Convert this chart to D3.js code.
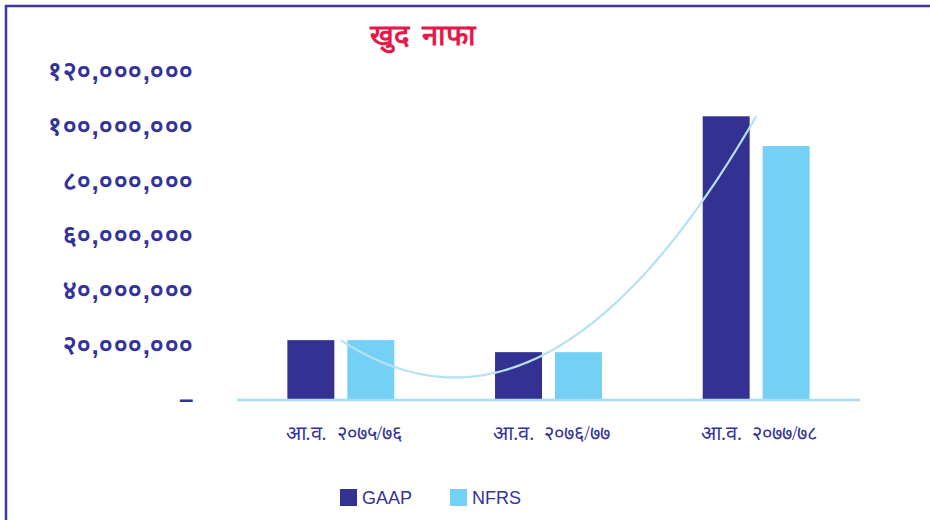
<!DOCTYPE html>
<html>
<head>
<meta charset="utf-8">
<script src="https://cdn.jsdelivr.net/npm/d3@7/dist/d3.min.js"></script>
<style>
  body { margin: 0; background: #fff; }
  svg { display: block; }
</style>
</head>
<body>
<svg width="930" height="520"></svg>
<script>
// data
const years = ['आ.व.  २०७५/७६', 'आ.व.  २०७६/७७', 'आ.व.  २०७७/७८'];
const gaap = [21900000, 17500000, 103800000];
const nfrs = [21900000, 17500000, 92900000];
const yTicks = [0, 20000000, 40000000, 60000000, 80000000, 100000000, 120000000];
const tickLabels = ['–', '२०,०००,०००', '४०,०००,०००', '६०,०००,०००', '८०,०००,०००', '१००,०००,०००', '१२०,०००,०००'];
const seriesNames = ['GAAP', 'NFRS'];
const colors = ['#333191', '#74d0f5'];

const ink = '#33339a';
const svg = d3.select('svg');

// frame
svg.append('path')
  .attr('d', 'M 6 520 L 6 6 L 930 6')
  .attr('fill', 'none')
  .attr('stroke', '#3a3a9c')
  .attr('stroke-width', 2.5);

const x = d3.scaleBand().domain(years).range([237, 860]);
const inner = d3.scaleBand().domain(seriesNames)
  .range([0, x.bandwidth()]).paddingInner(0.217).paddingOuter(0.84);
const y = d3.scaleLinear().domain([0, 120000000]).range([400, 72]);

// title
svg.append('text')
  .attr('x', 423).attr('y', 45)
  .attr('text-anchor', 'middle')
  .attr('fill', '#e8194a')
  .attr('font-size', 29).attr('font-weight', 'bold')
  .attr('word-spacing', 6)
  .text('खुद नाफा');

// y labels
const yAxis = d3.axisLeft(y).tickValues(yTicks)
  .tickFormat((d, i) => tickLabels[i]).tickSize(0).tickPadding(0);
const ga = svg.append('g').attr('transform', 'translate(194,0)').call(yAxis);
ga.select('.domain').remove();
ga.selectAll('text')
  .attr('fill', ink)
  .attr('font-size', 26)
  .attr('font-weight', 'bold')
  .attr('letter-spacing', 0.5)
  .attr('dy', '0.3em');

// bars
const groups = svg.append('g').selectAll('g')
  .data(years)
  .join('g')
  .attr('transform', d => 'translate(' + x(d) + ',0)');
groups.selectAll('rect')
  .data((d, i) => [gaap[i], nfrs[i]].map((v, j) => ({ key: seriesNames[j], v })))
  .join('rect')
  .attr('x', d => inner(d.key))
  .attr('width', inner.bandwidth())
  .attr('y', d => y(d.v))
  .attr('height', d => y(0) - y(d.v))
  .attr('fill', (d, j) => colors[j]);

// baseline
svg.append('line')
  .attr('x1', 237).attr('x2', 860)
  .attr('y1', y(0)).attr('y2', y(0))
  .attr('stroke', '#a9dcf5').attr('stroke-width', 2.5);

// category labels
svg.append('g').selectAll('text')
  .data(years)
  .join('text')
  .attr('x', d => x(d) + x.bandwidth() / 2 + 3)
  .attr('y', 440)
  .attr('text-anchor', 'middle')
  .attr('fill', ink)
  .attr('font-size', 20)
  .style('white-space', 'pre')
  .text(d => d);

// polynomial (order 2) trendline through GAAP
const n = gaap.length;
const lagrange = t => d3.sum(gaap, (v, i) => {
  let p = v;
  for (let j = 0; j < n; j++) if (j !== i) p *= (t - j) / (i - j);
  return p;
});
const ts = d3.range(0, 2.0001, 0.02);
const cx = t => x(years[0]) + x.bandwidth() / 2 + t * x.step();
svg.append('path')
  .datum(ts)
  .attr('fill', 'none')
  .attr('stroke', '#b4e1f6')
  .attr('stroke-width', 2.2)
  .attr('d', d3.line().x(t => cx(t)).y(t => y(lagrange(t))));

// legend
const lg = svg.append('g').selectAll('g')
  .data(seriesNames)
  .join('g')
  .attr('transform', (d, i) => 'translate(' + (340 + i * 110) + ',489)');
lg.append('rect').attr('width', 17).attr('height', 17).attr('fill', (d, i) => colors[i]);
lg.append('text')
  .attr('x', 22).attr('y', 15)
  .attr('fill', ink)
  .attr('font-size', 18)
  .attr('font-family', 'Liberation Sans Narrow, Arial, sans-serif')
  .text(d => d);
</script>
</body>
</html>
